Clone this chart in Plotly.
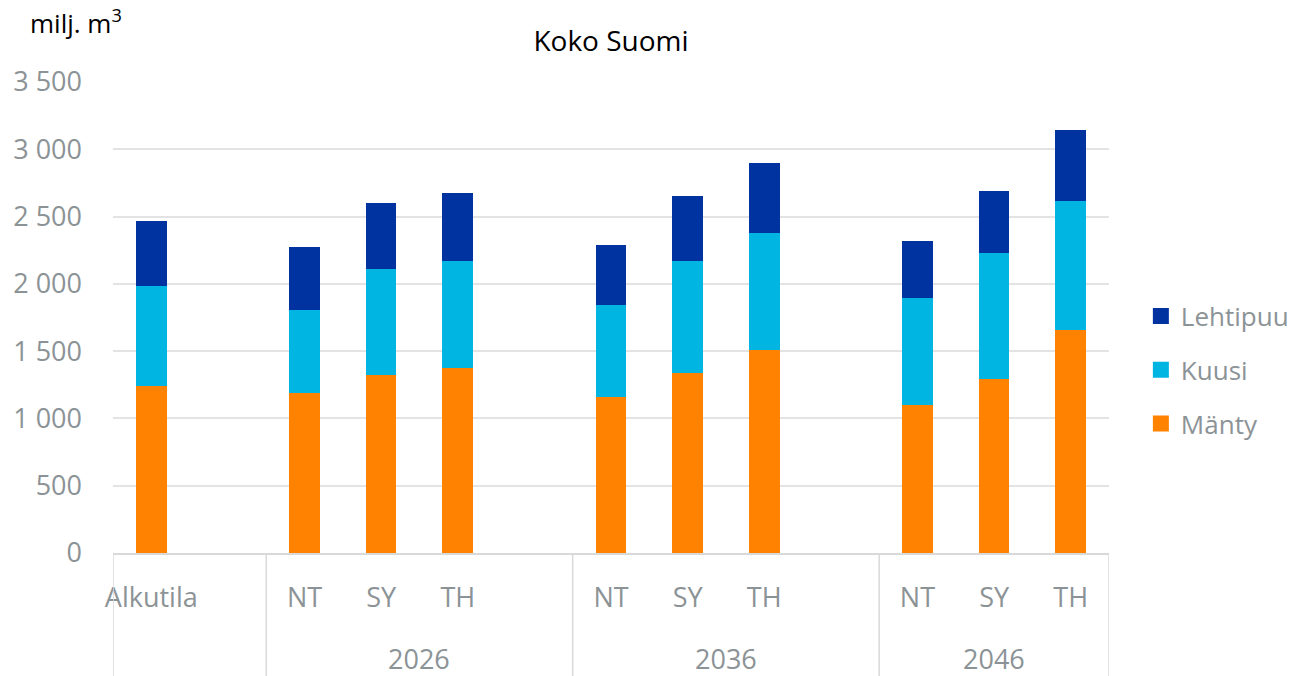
import plotly.graph_objects as go

# ---- data ----
groups = ["", "2026", "2036", "2046"]
group_members = [["Alkutila"], ["NT", "SY", "TH"], ["NT", "SY", "TH"], ["NT", "SY", "TH"]]
manty = [1241, 1189, 1323, 1375, 1159, 1338, 1508, 1100, 1293, 1657]
kuusi = [743, 617, 787, 795, 684, 832, 870, 795, 936, 959]
lehtipuu = [483, 468, 491, 505, 446, 483, 520, 423, 461, 527]
series_names = ["Mänty", "Kuusi", "Lehtipuu"]
colors = ["#FF8200", "#00B5E2", "#0033A0"]
legend_ranks = [3, 2, 1]
y_ticks = [0, 500, 1000, 1500, 2000, 2500, 3000, 3500]

# ---- slot layout (Excel style: blank slot between groups) ----
xpos, xlabels = [], []
group_spans = []
slot = 0
for gi, members in enumerate(group_members):
    start = slot - 0.5
    for m in members:
        xpos.append(slot)
        xlabels.append(m)
        slot += 1
    if gi < len(group_members) - 1:
        slot += 1  # blank slot
    group_spans.append((start, slot - 0.5))
n_slots = slot

GRAY = "#8C9396"
FONT = "Open Sans"
TS = 27

fig = go.Figure()
for name, vals, col, rk in zip(series_names, [manty, kuusi, lehtipuu], colors, legend_ranks):
    fig.add_trace(go.Bar(x=xpos, y=vals, name=name, marker=dict(color=col, line=dict(width=0)),
                         width=0.4, showlegend=False, legendgroup=name))
    # legend entry with a larger square symbol
    fig.add_trace(go.Scatter(x=[None], y=[None], mode="markers", name=name, legendgroup=name,
                             legendrank=rk, marker=dict(symbol="square", size=18, color=col)))

# dividers and group labels
shapes = []
annotations = []
for gi, (s, e) in enumerate(group_spans):
    shapes.append(dict(type="line", xref="x", yref="paper", x0=s, x1=s, y0=0, y1=-0.262,
                       line=dict(color="#D9D9D9", width=1.5)))
    if groups[gi]:
        annotations.append(dict(x=(s + e) / 2, y=-0.224, xref="x", yref="paper", text=groups[gi],
                                showarrow=False, font=dict(size=TS, color=GRAY, family=FONT),
                                xanchor="center", yanchor="middle"))
shapes.append(dict(type="line", xref="x", yref="paper", x0=n_slots - 0.5, x1=n_slots - 0.5, y0=0, y1=-0.262,
                   line=dict(color="#D9D9D9", width=1.5)))

annotations.append(dict(x=-0.085, y=1.128, xref="paper", yref="paper", text="milj. m<sup>3</sup>",
                        showarrow=False, font=dict(size=26, color="#000000", family=FONT),
                        xanchor="left", yanchor="middle"))

fig.update_layout(
    width=1294, height=676,
    margin=dict(l=113, r=185, t=82, b=123, autoexpand=False),
    paper_bgcolor="white", plot_bgcolor="white",
    barmode="stack",
    title=dict(text="Koko Suomi", x=(113 + 1109) / 2 / 1294, xanchor="center", y=1 - 41 / 676, yanchor="middle",
               font=dict(size=28, color="#000000", family=FONT)),
    font=dict(family=FONT, color=GRAY),
    separators=", ",
    xaxis=dict(range=[-0.5, n_slots - 0.5], tickvals=xpos, ticktext=xlabels, showgrid=False,
               showline=True, linecolor="#D9D9D9", linewidth=1.5, ticks="", zeroline=False, automargin=False,
               tickfont=dict(size=TS, color=GRAY, family=FONT), ticklabelstandoff=20),
    yaxis=dict(range=[0, 3500], tickvals=y_ticks, tickformat=",d", showgrid=True, gridcolor="#E3E3E3",
               gridwidth=1.5, zeroline=False, showline=False, ticks="", automargin=False,
               tickfont=dict(size=TS, color=GRAY, family=FONT), ticklabelstandoff=30),
    legend=dict(x=1.032, y=0.3885, xanchor="left", yanchor="middle", traceorder="grouped",
                tracegroupgap=17, font=dict(size=26, color=GRAY, family=FONT), itemwidth=30),
    shapes=shapes, annotations=annotations, bargap=0,
)

fig.write_html("out.html", config={"displayModeBar": False},
               post_script="document.body.style.margin='0';document.body.style.overflow='hidden';")
